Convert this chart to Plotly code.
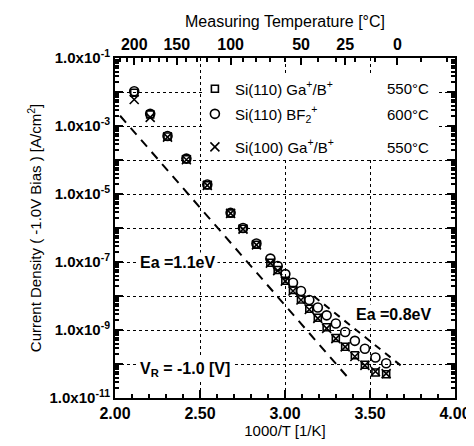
import plotly.graph_objects as go

# ---- data ----
inv_T = [2.113, 2.207, 2.309, 2.420, 2.543, 2.680, 2.753, 2.832, 2.914, 2.957, 3.002,
         3.047, 3.094, 3.143, 3.193, 3.245, 3.299, 3.354, 3.411, 3.470, 3.532, 3.595]

j_si110_gab = [9.5e-3, 2.2e-3, 4.9e-4, 1.05e-4, 1.8e-5, 2.7e-6, 9.5e-7, 3.2e-7, 9.5e-8, 5.8e-8, 2.8e-8,
               1.5e-8, 7.9e-9, 4.2e-9, 2.3e-9, 1.2e-9, 5.8e-10, 3.2e-10, 1.8e-10, 9.5e-11, 5.6e-11, 5.0e-11]
j_si110_bf2 = [1.05e-2, 2.3e-3, 5.1e-4, 1.1e-4, 1.9e-5, 2.8e-6, 1.0e-6, 3.5e-7, 1.26e-7, 7.6e-8, 4.4e-8,
               2.45e-8, 1.4e-8, 7.6e-9, 4.6e-9, 2.7e-9, 1.55e-9, 8.7e-10, 4.8e-10, 2.8e-10, 1.55e-10, 1.05e-10]
j_si100_gab = [6.0e-3, 1.8e-3, 4.7e-4, 1.02e-4, 1.8e-5, 2.7e-6, 9.3e-7, 3.2e-7, 9.3e-8, 5.6e-8, 2.75e-8,
               1.4e-8, 7.6e-9, 4.0e-9, 2.2e-9, 1.12e-9, 5.6e-10, 3.2e-10, 1.66e-10, 9.1e-11, 6.0e-11, 5.2e-11]

fit11_x = [2.03, 3.38]
fit11_y = [2.0e-3, 3.5e-11]
fit08_x = [3.17, 3.68]
fit08_y = [9.8e-9, 9.1e-11]

series_names = ["Si(110) Ga<sup>+</sup>/B<sup>+</sup>",
                "Si(110) BF<sub>2</sub><sup>+</sup>",
                "Si(100) Ga<sup>+</sup>/B<sup>+</sup>"]
series_temps = ["550°C", "600°C", "550°C"]

bottom_ticks = [2.0, 2.5, 3.0, 3.5, 4.0]
bottom_text = ["2.00", "2.50", "3.00", "3.50", "4.00"]
top_major_T = [200, 150, 100, 50, 25, 0]
top_minor_T = list(range(220, -30, -10))
y_label_exps = [-11, -9, -7, -5, -3, -1]
y_plain_exps = [-10, -8, -6, -4, -2]

# ---- derived tick positions ----
def invT(tc):
    return 1000.0 / (tc + 273.15)

top_vals = [invT(t) for t in top_major_T]
top_text = [str(t) for t in top_major_T]
top_minor = [invT(t) for t in top_minor_T if 2.0 <= invT(t) <= 4.0]
y_vals = [10.0 ** e for e in y_label_exps]
y_text = ["1.0x10<sup>%d</sup>" % e for e in y_label_exps]
y_plain = [10.0 ** e for e in y_plain_exps]
y_minor = [m * 10.0 ** e for e in range(-11, -1) for m in range(2, 10)]

fig = go.Figure()
fig.add_trace(go.Scatter(x=fit11_x, y=fit11_y, mode="lines", showlegend=False, hoverinfo="skip",
                         line=dict(color="black", width=2, dash="9px,7px")))
fig.add_trace(go.Scatter(x=fit08_x, y=fit08_y, mode="lines", showlegend=False, hoverinfo="skip",
                         line=dict(color="black", width=2, dash="7px,6px")))

symbols = ["square-open", "circle-open", "x-thin-open"]
sizes = [7, 9, 9]
datas = [j_si110_gab, j_si110_bf2, j_si100_gab]
legends = ["legend", "legend2", "legend3"]
for name, sym, sz, d, lg in zip(series_names, symbols, sizes, datas, legends):
    fig.add_trace(go.Scatter(x=inv_T, y=d, mode="markers", name=name, legend=lg,
                             marker=dict(symbol=sym, size=sz, color="black",
                                         line=dict(color="black", width=1.6))))

# invisible copies so that the temperature axis and the extra decade axis are drawn
fig.add_trace(go.Scatter(x=inv_T, y=j_si110_gab, xaxis="x2", mode="markers", showlegend=False,
                         hoverinfo="skip", marker=dict(opacity=0)))
fig.add_trace(go.Scatter(x=inv_T, y=j_si110_gab, yaxis="y2", mode="markers", showlegend=False,
                         hoverinfo="skip", marker=dict(opacity=0)))

font_main = "Liberation Sans, Arial, sans-serif"
grid = dict(showgrid=True, gridcolor="black", griddash="dot", gridwidth=1)
fig.update_layout(
    width=466, height=438,
    margin=dict(l=107, r=19, t=50, b=48),
    plot_bgcolor="white", paper_bgcolor="white",
    font=dict(family=font_main, size=15, color="black"),
    xaxis=dict(range=[2, 4], tickmode="array", tickvals=bottom_ticks, ticktext=bottom_text,
               ticks="inside", ticklen=8, tickwidth=2, tickcolor="black", automargin=False,
               showline=True, linewidth=2, linecolor="black", zeroline=False, **grid,
               minor=dict(dtick=0.1, tick0=2.0, ticks="inside", ticklen=4, tickwidth=2,
                          tickcolor="black", showgrid=False),
               tickfont=dict(size=16, weight="bold"),
               title=dict(text="1000/T [1/K]", font=dict(size=15), standoff=0)),
    xaxis2=dict(overlaying="x", side="top", range=[2, 4], tickmode="array",
                tickvals=top_vals, ticktext=top_text, automargin=False,
                ticks="inside", ticklen=7, tickwidth=2, tickcolor="black",
                showline=True, linewidth=2, linecolor="black", showgrid=False, zeroline=False,
                minor=dict(tickmode="array", tickvals=top_minor, ticks="inside", ticklen=4,
                           tickwidth=2, tickcolor="black", showgrid=False),
                tickfont=dict(size=16, weight="bold"),
                title=dict(text="Measuring Temperature [°C]", font=dict(size=16), standoff=4)),
    yaxis=dict(type="log", range=[-11, -1], tickmode="array", tickvals=y_vals, ticktext=y_text,
               ticks="inside", ticklen=8, tickwidth=2, tickcolor="black", automargin=False,
               showline=True, linewidth=2, linecolor="black", mirror="ticks", zeroline=False, **grid,
               minor=dict(tickmode="array", tickvals=y_minor, ticks="inside", ticklen=4,
                          tickwidth=1.5, tickcolor="black", showgrid=False),
               tickfont=dict(size=15, weight="bold"),
               title=dict(text="Current Density ( -1.0V Bias ) [A/cm<sup>2</sup>]",
                          font=dict(size=15), standoff=4)),
    yaxis2=dict(type="log", range=[-11, -1], overlaying="y", side="left", tickmode="array",
                tickvals=y_plain, showticklabels=False, automargin=False,
                ticks="inside", ticklen=8, tickwidth=2, tickcolor="black",
                showline=False, mirror="ticks", zeroline=False, **grid),
    legend=dict(x=0.235, y=0.909, xanchor="left", yanchor="middle", bgcolor="rgba(0,0,0,0)",
                font=dict(size=15), itemwidth=30),
    legend2=dict(x=0.235, y=0.835, xanchor="left", yanchor="middle", bgcolor="rgba(0,0,0,0)",
                 font=dict(size=15), itemwidth=30),
    legend3=dict(x=0.235, y=0.738, xanchor="left", yanchor="middle", bgcolor="rgba(0,0,0,0)",
                 font=dict(size=15), itemwidth=30),
)

# white box behind the legend (no data falls in it; legend/annotations draw above it)
fig.add_shape(type="rect", xref="paper", yref="paper", x0=0.259, x1=0.95, y0=0.709, y1=0.95,
              fillcolor="white", line=dict(width=0), layer="above")

for t, yy in zip(series_temps, [0.909, 0.835, 0.738]):
    fig.add_annotation(text=t, xref="paper", yref="paper", x=0.862, y=yy, showarrow=False,
                       font=dict(size=15), xanchor="center", yanchor="middle")

fig.add_annotation(text="<b>Ea =1.1eV</b>", x=2.37, y=-7, showarrow=False,
                   font=dict(size=16), bgcolor="white", borderpad=1)
fig.add_annotation(text="<b>Ea =0.8eV</b>", x=3.64, y=-8.54, showarrow=False,
                   font=dict(size=16), bgcolor="white", borderpad=1)
fig.add_annotation(text="<b>V<sub>R</sub> = -1.0 [V]</b>", x=2.41, y=-10.16, showarrow=False,
                   font=dict(size=16), bgcolor="white", borderpad=2)

fig.write_html("out.html")
